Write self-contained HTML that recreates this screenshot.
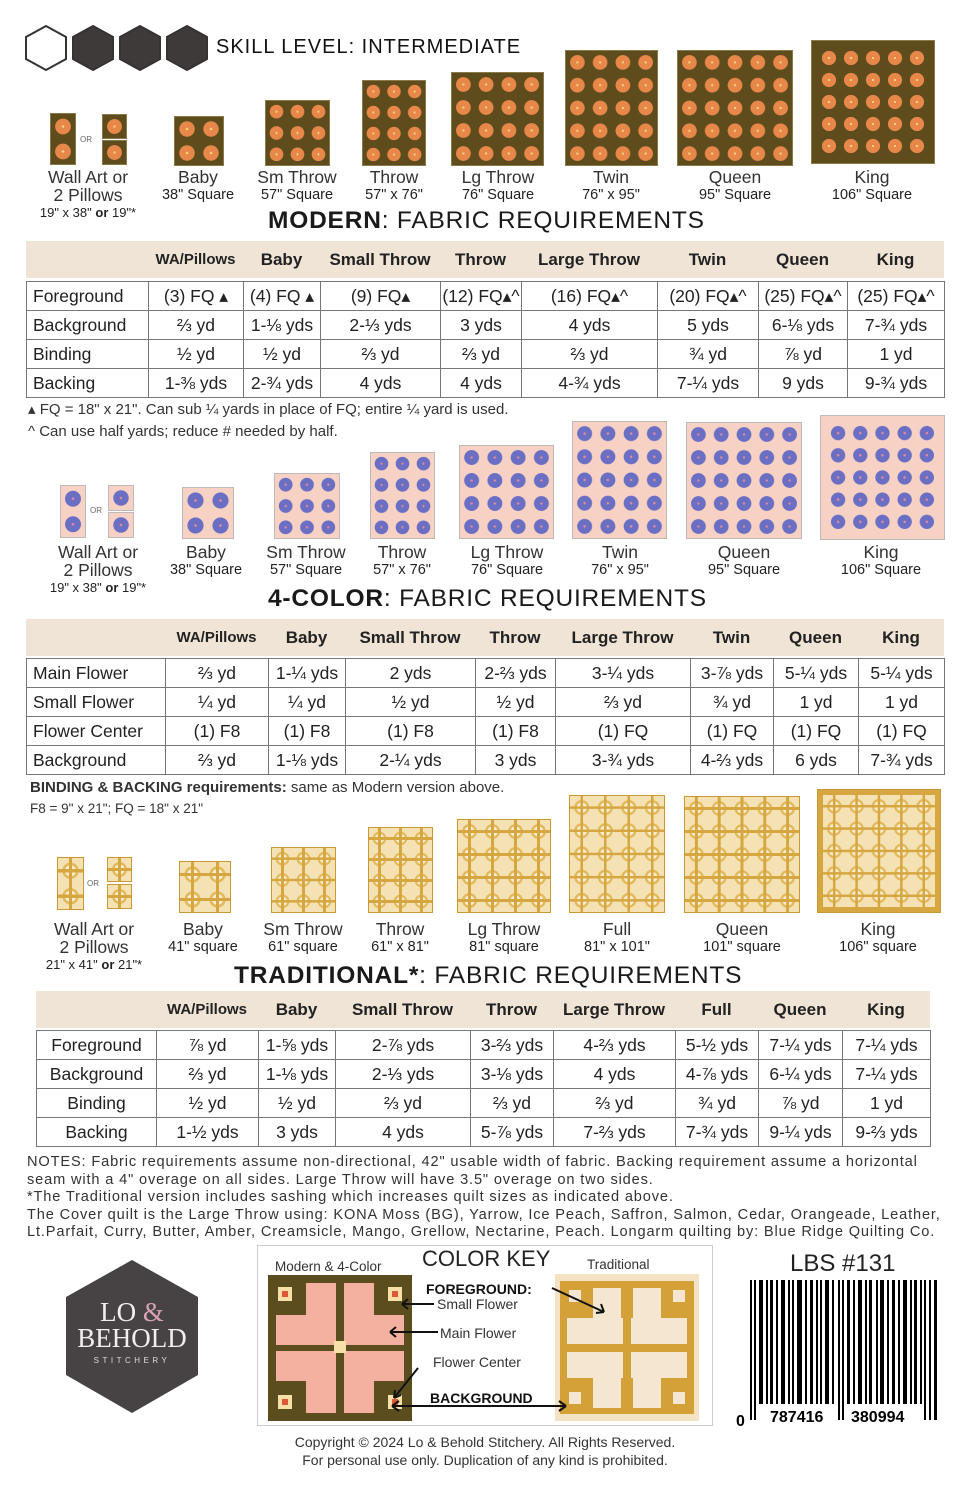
<!DOCTYPE html>
<html><head><meta charset="utf-8"><style>
*{margin:0;padding:0;box-sizing:border-box}
body{width:970px;height:1500px;background:#fff;position:relative;font-family:"Liberation Sans","DejaVu Sans",sans-serif;color:#2a2a2a;overflow:hidden}
.a{position:absolute}
.q{position:absolute}
.m{background-color:#5e4c1c;background-image:radial-gradient(circle,#f4d27a 0 7%,#e8874a 8% 44%,transparent 47%);border:1px solid #8a7a4a}
.c{background-color:#f7d2c4;background-image:radial-gradient(circle,#e08a9a 0 7%,#6b6fc4 8% 44%,transparent 47%);border:1px solid #bbb}
.t{background-color:#f4e2b4;background-image:linear-gradient(90deg,transparent 0 44%,#d6a640 44% 56%,transparent 56%),linear-gradient(0deg,transparent 0 44%,#d6a640 44% 56%,transparent 56%),radial-gradient(circle,#f8edd0 0 30%,#e2b95c 32% 45%,transparent 47%);border:1px solid #c99a34}
.lb{position:absolute;text-align:center;font-size:17.5px;line-height:18px;color:#333;width:120px}
.lb small{font-size:14.5px;display:block;color:#222}
.h{position:absolute;font-size:24.5px;letter-spacing:.8px;color:#1a1a1a;white-space:nowrap}
table{border-collapse:collapse;position:absolute;table-layout:fixed;font-size:17.5px}
.hd td{font-weight:bold;text-align:center;font-size:17px;height:37px;color:#222}
.bd td{border:1.5px solid #777;height:29px;text-align:center;color:#222;white-space:nowrap}
.bd td:first-child{text-align:left;padding-left:6px}
.tr td:first-child{text-align:center;padding-left:0}
.note{position:absolute;font-size:14.5px;line-height:17.6px;color:#333;white-space:nowrap}
</style></head><body>
<svg class="a" style="left:22px;top:24px" width="190" height="48"><g stroke="#333" stroke-width="2"><polygon points="24,2 44,13 44,35 24,46 4,35 4,13" fill="#fff"/><polygon points="71,2 91,13 91,35 71,46 51,35 51,13" fill="#3e3a39"/><polygon points="118,2 138,13 138,35 118,46 98,35 98,13" fill="#3e3a39"/><polygon points="165,2 185,13 185,35 165,46 145,35 145,13" fill="#3e3a39"/></g></svg>
<div class="a" style="left:216px;top:36px;font-size:20px;letter-spacing:1px;color:#111">SKILL LEVEL: INTERMEDIATE</div>

<div class="q m" style="left:50px;top:113px;width:26px;height:52px;background-size:100% 50%"></div>
<div class="a" style="left:80px;top:135px;font-size:8px;color:#666">OR</div>
<div class="q m" style="left:102px;top:114px;width:25px;height:25px;background-size:100% 100%"></div>
<div class="q m" style="left:102px;top:140px;width:25px;height:25px;background-size:100% 100%"></div>
<div class="q m" style="left:174px;top:116px;width:50px;height:50px;background-size:50% 50%"></div>
<div class="q m" style="left:265px;top:100px;width:65px;height:66px;background-size:33.33% 33.33%"></div>
<div class="q m" style="left:362px;top:80px;width:64px;height:86px;background-size:33.33% 25%"></div>
<div class="q m" style="left:451px;top:72px;width:93px;height:94px;background-size:25% 25%"></div>
<div class="q m" style="left:565px;top:50px;width:93px;height:116px;background-size:25% 20%"></div>
<div class="q m" style="left:677px;top:50px;width:116px;height:116px;background-size:20% 20%"></div>
<div class="q" style="left:811px;top:40px;width:124px;height:124px;background:#5e4c1c;border:1px solid #8a7a4a"><div class="q m" style="left:6px;top:6px;width:110px;height:110px;background-size:20% 20%;border:none"></div></div>
<div class="lb" style="left:28px;top:168px">Wall Art or<br>2 Pillows<small style="font-size:13px">19" x 38" <b>or</b> 19"*</small></div>
<div class="lb" style="left:138px;top:168px">Baby<small>38" Square</small></div>
<div class="lb" style="left:237px;top:168px">Sm Throw<small>57" Square</small></div>
<div class="lb" style="left:334px;top:168px">Throw<small>57" x 76"</small></div>
<div class="lb" style="left:438px;top:168px">Lg Throw<small>76" Square</small></div>
<div class="lb" style="left:551px;top:168px">Twin<small>76" x 95"</small></div>
<div class="lb" style="left:675px;top:168px">Queen<small>95" Square</small></div>
<div class="lb" style="left:812px;top:168px">King<small>106" Square</small></div>
<div class="h" style="left:268px;top:207px"><b>MODERN</b>: FABRIC REQUIREMENTS</div>

<div class="a" style="left:26px;top:241px;width:918px;height:37px;background:#efe4d5"></div>
<table class="hd" style="left:26px;top:241px;width:918px"><colgroup><col style="width:122px"><col style="width:95px"><col style="width:77px"><col style="width:120px"><col style="width:81px"><col style="width:136px"><col style="width:101px"><col style="width:89px"><col style="width:97px"></colgroup>
<tr><td></td><td style="font-size:15px">WA/Pillows</td><td>Baby</td><td>Small Throw</td><td>Throw</td><td>Large Throw</td><td>Twin</td><td>Queen</td><td>King</td></tr></table>
<table class="bd" style="left:26px;top:281px;width:918px"><colgroup><col style="width:122px"><col style="width:95px"><col style="width:77px"><col style="width:120px"><col style="width:81px"><col style="width:136px"><col style="width:101px"><col style="width:89px"><col style="width:97px"></colgroup>
<tr><td>Foreground</td><td>(3) FQ ▴</td><td>(4) FQ ▴</td><td>(9) FQ▴</td><td>(12) FQ▴^</td><td>(16) FQ▴^</td><td>(20) FQ▴^</td><td>(25) FQ▴^</td><td>(25) FQ▴^</td></tr>
<tr><td>Background</td><td>⅔ yd</td><td>1-⅛ yds</td><td>2-⅓ yds</td><td>3 yds</td><td>4 yds</td><td>5 yds</td><td>6-⅛ yds</td><td>7-¾ yds</td></tr>
<tr><td>Binding</td><td>½ yd</td><td>½ yd</td><td>⅔ yd</td><td>⅔ yd</td><td>⅔ yd</td><td>¾ yd</td><td>⅞ yd</td><td>1 yd</td></tr>
<tr><td>Backing</td><td>1-⅜ yds</td><td>2-¾ yds</td><td>4 yds</td><td>4 yds</td><td>4-¾ yds</td><td>7-¼ yds</td><td>9 yds</td><td>9-¾ yds</td></tr></table>
<div class="note" style="left:28px;top:401px;font-size:15px">▴ FQ = 18" x 21". Can sub ¼ yards in place of FQ; entire ¼ yard is used.</div>
<div class="note" style="left:28px;top:423px;font-size:15px">^ Can use half yards; reduce # needed by half.</div>

<div class="q c" style="left:60px;top:485px;width:26px;height:53px;background-size:100% 50%"></div>
<div class="a" style="left:90px;top:506px;font-size:8px;color:#666">OR</div>
<div class="q c" style="left:108px;top:485px;width:26px;height:26px;background-size:100% 100%"></div>
<div class="q c" style="left:108px;top:512px;width:26px;height:26px;background-size:100% 100%"></div>
<div class="q c" style="left:182px;top:487px;width:52px;height:52px;background-size:50% 50%"></div>
<div class="q c" style="left:274px;top:473px;width:66px;height:66px;background-size:33.33% 33.33%"></div>
<div class="q c" style="left:370px;top:452px;width:65px;height:87px;background-size:33.33% 25%"></div>
<div class="q c" style="left:459px;top:445px;width:95px;height:94px;background-size:25% 25%"></div>
<div class="q c" style="left:572px;top:421px;width:95px;height:118px;background-size:25% 20%"></div>
<div class="q c" style="left:686px;top:422px;width:116px;height:117px;background-size:20% 20%"></div>
<div class="q" style="left:820px;top:415px;width:125px;height:125px;background:#f7d2c4;border:1px solid #bbb"><div class="q c" style="left:6px;top:6px;width:111px;height:111px;background-size:20% 20%;border:none"></div></div>
<div class="lb" style="left:38px;top:543px">Wall Art or<br>2 Pillows<small style="font-size:13px">19" x 38" <b>or</b> 19"*</small></div>
<div class="lb" style="left:146px;top:543px">Baby<small>38" Square</small></div>
<div class="lb" style="left:246px;top:543px">Sm Throw<small>57" Square</small></div>
<div class="lb" style="left:342px;top:543px">Throw<small>57" x 76"</small></div>
<div class="lb" style="left:447px;top:543px">Lg Throw<small>76" Square</small></div>
<div class="lb" style="left:560px;top:543px">Twin<small>76" x 95"</small></div>
<div class="lb" style="left:684px;top:543px">Queen<small>95" Square</small></div>
<div class="lb" style="left:821px;top:543px">King<small>106" Square</small></div>
<div class="h" style="left:268px;top:585px"><b>4-COLOR</b>: FABRIC REQUIREMENTS</div>

<div class="a" style="left:26px;top:619px;width:918px;height:37px;background:#efe4d5"></div>
<table class="hd" style="left:26px;top:619px;width:918px"><colgroup><col style="width:139px"><col style="width:103px"><col style="width:77px"><col style="width:130px"><col style="width:80px"><col style="width:135px"><col style="width:83px"><col style="width:85px"><col style="width:86px"></colgroup>
<tr><td></td><td style="font-size:15px">WA/Pillows</td><td>Baby</td><td>Small Throw</td><td>Throw</td><td>Large Throw</td><td>Twin</td><td>Queen</td><td>King</td></tr></table>
<table class="bd" style="left:26px;top:658px;width:918px"><colgroup><col style="width:139px"><col style="width:103px"><col style="width:77px"><col style="width:130px"><col style="width:80px"><col style="width:135px"><col style="width:83px"><col style="width:85px"><col style="width:86px"></colgroup>
<tr><td>Main Flower</td><td>⅔ yd</td><td>1-¼ yds</td><td>2 yds</td><td>2-⅔ yds</td><td>3-¼ yds</td><td>3-⅞ yds</td><td>5-¼ yds</td><td>5-¼ yds</td></tr>
<tr><td>Small Flower</td><td>¼ yd</td><td>¼ yd</td><td>½ yd</td><td>½ yd</td><td>⅔ yd</td><td>¾ yd</td><td>1 yd</td><td>1 yd</td></tr>
<tr><td>Flower Center</td><td>(1) F8</td><td>(1) F8</td><td>(1) F8</td><td>(1) F8</td><td>(1) FQ</td><td>(1) FQ</td><td>(1) FQ</td><td>(1) FQ</td></tr>
<tr><td>Background</td><td>⅔ yd</td><td>1-⅛ yds</td><td>2-¼ yds</td><td>3 yds</td><td>3-¾ yds</td><td>4-⅔ yds</td><td>6 yds</td><td>7-¾ yds</td></tr></table>
<div class="note" style="left:30px;top:779px;font-size:15px"><b>BINDING &amp; BACKING requirements:</b> same as Modern version above.</div>
<div class="note" style="left:30px;top:800px;font-size:13.5px">F8 = 9" x 21"; FQ = 18" x 21"</div>

<div class="q t" style="left:57px;top:857px;width:27px;height:53px;background-size:100% 50%"></div>
<div class="a" style="left:87px;top:879px;font-size:8px;color:#666">OR</div>
<div class="q t" style="left:107px;top:857px;width:25px;height:25px;background-size:100% 100%"></div>
<div class="q t" style="left:107px;top:884px;width:25px;height:25px;background-size:100% 100%"></div>
<div class="q t" style="left:179px;top:861px;width:52px;height:52px;background-size:50% 50%"></div>
<div class="q t" style="left:271px;top:847px;width:65px;height:66px;background-size:33.33% 33.33%"></div>
<div class="q t" style="left:368px;top:827px;width:65px;height:86px;background-size:33.33% 25%"></div>
<div class="q t" style="left:457px;top:819px;width:94px;height:94px;background-size:25% 25%"></div>
<div class="q t" style="left:569px;top:795px;width:96px;height:118px;background-size:25% 20%"></div>
<div class="q t" style="left:684px;top:796px;width:116px;height:117px;background-size:20% 20%"></div>
<div class="q" style="left:817px;top:789px;width:124px;height:124px;background:#d6a640;border:1px solid #c99a34"><div class="q t" style="left:5px;top:5px;width:112px;height:112px;background-size:20% 20%;border:none"></div></div>
<div class="lb" style="left:34px;top:920px">Wall Art or<br>2 Pillows<small style="font-size:13px">21" x 41" <b>or</b> 21"*</small></div>
<div class="lb" style="left:143px;top:920px">Baby<small>41" square</small></div>
<div class="lb" style="left:243px;top:920px">Sm Throw<small>61" square</small></div>
<div class="lb" style="left:340px;top:920px">Throw<small>61" x 81"</small></div>
<div class="lb" style="left:444px;top:920px">Lg Throw<small>81" square</small></div>
<div class="lb" style="left:557px;top:920px">Full<small>81" x 101"</small></div>
<div class="lb" style="left:682px;top:920px">Queen<small>101" square</small></div>
<div class="lb" style="left:818px;top:920px">King<small>106" square</small></div>
<div class="h" style="left:234px;top:962px"><b>TRADITIONAL*</b>: FABRIC REQUIREMENTS</div>

<div class="a" style="left:36px;top:991px;width:894px;height:37px;background:#efe4d5"></div>
<table class="hd" style="left:36px;top:991px;width:894px"><colgroup><col style="width:120px"><col style="width:102px"><col style="width:77px"><col style="width:135px"><col style="width:83px"><col style="width:122px"><col style="width:83px"><col style="width:84px"><col style="width:88px"></colgroup>
<tr><td></td><td style="font-size:15px">WA/Pillows</td><td>Baby</td><td>Small Throw</td><td>Throw</td><td>Large Throw</td><td>Full</td><td>Queen</td><td>King</td></tr></table>
<table class="bd tr" style="left:36px;top:1030px;width:894px"><colgroup><col style="width:120px"><col style="width:102px"><col style="width:77px"><col style="width:135px"><col style="width:83px"><col style="width:122px"><col style="width:83px"><col style="width:84px"><col style="width:88px"></colgroup>
<tr><td>Foreground</td><td>⅞ yd</td><td>1-⅝ yds</td><td>2-⅞ yds</td><td>3-⅔ yds</td><td>4-⅔ yds</td><td>5-½ yds</td><td>7-¼ yds</td><td>7-¼ yds</td></tr>
<tr><td>Background</td><td>⅔ yd</td><td>1-⅛ yds</td><td>2-⅓ yds</td><td>3-⅛ yds</td><td>4 yds</td><td>4-⅞ yds</td><td>6-¼ yds</td><td>7-¼ yds</td></tr>
<tr><td>Binding</td><td>½ yd</td><td>½ yd</td><td>⅔ yd</td><td>⅔ yd</td><td>⅔ yd</td><td>¾ yd</td><td>⅞ yd</td><td>1 yd</td></tr>
<tr><td>Backing</td><td>1-½ yds</td><td>3 yds</td><td>4 yds</td><td>5-⅞ yds</td><td>7-⅔ yds</td><td>7-¾ yds</td><td>9-¼ yds</td><td>9-⅔ yds</td></tr></table>

<div class="note" style="left:27px;top:1154px;font-size:14.6px;letter-spacing:.85px">NOTES: Fabric requirements assume non-directional, 42" usable width of fabric. Backing requirement assume a horizontal<br>seam with a 4" overage on all sides. Large Throw will have 3.5" overage on two sides.<br>*The Traditional version includes sashing which increases quilt sizes as indicated above.<br>The Cover quilt is the Large Throw using: KONA Moss (BG), Yarrow, Ice Peach, Saffron, Salmon, Cedar, Orangeade, Leather,<br>Lt.Parfait, Curry, Butter, Amber, Creamsicle, Mango, Grellow, Nectarine, Peach. Longarm quilting by: Blue Ridge Quilting Co.</div>

<svg class="a" style="left:60px;top:1257px" width="144" height="160"><polygon points="72,3 138,40 138,118 72,156 6,118 6,40" fill="#474244"/>
<text x="72" y="64" text-anchor="middle" font-family="Liberation Serif,serif" font-size="27" fill="#f2eeee">LO <tspan fill="#d6a3b6">&amp;</tspan></text>
<text x="72" y="90" text-anchor="middle" font-family="Liberation Serif,serif" font-size="27" fill="#f2eeee">BEHOLD</text>
<text x="72" y="106" text-anchor="middle" font-family="Liberation Sans,sans-serif" font-size="8" letter-spacing="3.5" fill="#ddd">STITCHERY</text></svg>

<div class="a" style="left:257px;top:1245px;width:456px;height:181px;border:1px solid #ccc"></div>
<div class="a" style="left:422px;top:1246px;font-size:22px;color:#222">COLOR KEY</div>
<div class="a" style="left:275px;top:1259px;font-size:13.5px;color:#333">Modern &amp; 4-Color</div>
<div class="a" style="left:587px;top:1257px;font-size:13.5px;color:#333">Traditional</div>
<svg class="a" style="left:268px;top:1275px" width="144" height="146"><rect width="144" height="146" fill="#5c4d1e"/>
<g fill="#f4b1a0"><rect x="38" y="8" width="30" height="60"/><rect x="76" y="8" width="30" height="60"/><rect x="8" y="40" width="60" height="30"/><rect x="76" y="40" width="60" height="30"/><rect x="38" y="78" width="30" height="60"/><rect x="76" y="78" width="30" height="60"/><rect x="8" y="76" width="60" height="30"/><rect x="76" y="76" width="60" height="30"/></g>
<rect x="66" y="66" width="12" height="12" fill="#f7e0a8"/>
<g fill="#f7e0a8"><rect x="10" y="12" width="14" height="14"/><rect x="120" y="12" width="14" height="14"/><rect x="10" y="120" width="14" height="14"/><rect x="120" y="120" width="14" height="14"/></g>
<g fill="#e0563a"><rect x="14" y="16" width="6" height="6"/><rect x="124" y="16" width="6" height="6"/><rect x="14" y="124" width="6" height="6"/><rect x="124" y="124" width="6" height="6"/></g></svg>
<svg class="a" style="left:555px;top:1274px" width="144" height="147"><rect width="144" height="147" fill="#f4e2c4"/><rect x="5" y="7" width="134" height="133" fill="#d4a138"/>
<g fill="#f4e6d0"><rect x="38" y="14" width="28" height="56"/><rect x="78" y="14" width="28" height="56"/><rect x="12" y="44" width="56" height="26"/><rect x="76" y="44" width="56" height="26"/><rect x="38" y="78" width="28" height="56"/><rect x="78" y="78" width="28" height="56"/><rect x="12" y="78" width="56" height="26"/><rect x="76" y="78" width="56" height="26"/></g>
<g fill="#f4e6d0"><rect x="14" y="16" width="12" height="12"/><rect x="118" y="16" width="12" height="12"/><rect x="14" y="118" width="12" height="12"/><rect x="118" y="118" width="12" height="12"/></g></svg>
<div class="a" style="left:426px;top:1281px;font-size:14px;font-weight:bold;color:#111">FOREGROUND:</div>
<div class="a" style="left:437px;top:1296px;font-size:14px;color:#333">Small Flower</div>
<div class="a" style="left:440px;top:1325px;font-size:14px;color:#333">Main Flower</div>
<div class="a" style="left:433px;top:1354px;font-size:14px;color:#333">Flower Center</div>
<div class="a" style="left:430px;top:1390px;font-size:14px;font-weight:bold;color:#111">BACKGROUND</div>
<svg class="a" style="left:380px;top:1280px" width="240" height="140" fill="none" stroke="#111" stroke-width="2"><path d="M54,24 L22,24 M22,24 l6,-5 M22,24 l6,5"/><path d="M58,52 L10,52 M10,52 l6,-5 M10,52 l6,5"/><path d="M38,88 L14,118 M14,118 l1,-8 M14,118 l7,-3"/><path d="M12,126 L186,126 M12,126 l7,-5 M12,126 l7,5 M186,126 l-7,-5 M186,126 l-7,5"/><path d="M172,8 L224,32 M224,32 l-3,-8 M224,32 l-8,1"/></svg>

<div class="a" style="left:790px;top:1250px;font-size:24px;color:#222">LBS #131</div>
<svg class="a" style="left:733px;top:1280px" width="210" height="150">
<g fill="#000" transform="translate(15,0)">
<rect x="2" y="0" width="2" height="140"/><rect x="6" y="0" width="2" height="140"/><rect x="11" y="0" width="4" height="124"/><rect x="18" y="0" width="2" height="124"/><rect x="22" y="0" width="3" height="124"/><rect x="28" y="0" width="2" height="124"/><rect x="33" y="0" width="4" height="124"/><rect x="40" y="0" width="2" height="124"/><rect x="44" y="0" width="2" height="124"/><rect x="49" y="0" width="5" height="124"/><rect x="57" y="0" width="2" height="124"/><rect x="62" y="0" width="3" height="124"/><rect x="68" y="0" width="2" height="124"/><rect x="72" y="0" width="2" height="124"/><rect x="77" y="0" width="4" height="124"/><rect x="84" y="0" width="2" height="124"/><rect x="90" y="0" width="2" height="140"/><rect x="94" y="0" width="2" height="140"/><rect x="99" y="0" width="3" height="124"/><rect x="105" y="0" width="2" height="124"/><rect x="110" y="0" width="4" height="124"/><rect x="117" y="0" width="2" height="124"/><rect x="121" y="0" width="3" height="124"/><rect x="128" y="0" width="2" height="124"/><rect x="132" y="0" width="4" height="124"/><rect x="139" y="0" width="2" height="124"/><rect x="144" y="0" width="3" height="124"/><rect x="150" y="0" width="2" height="124"/><rect x="155" y="0" width="4" height="124"/><rect x="162" y="0" width="2" height="124"/><rect x="166" y="0" width="3" height="124"/><rect x="172" y="0" width="2" height="124"/><rect x="176" y="0" width="2" height="140"/><rect x="181" y="0" width="2" height="140"/><rect x="186" y="0" width="3" height="140"/></g>
<text x="3" y="146" font-size="16" font-weight="bold" font-family="Liberation Sans,sans-serif">0</text>
<text x="37" y="142" font-size="16" font-weight="bold" font-family="Liberation Sans,sans-serif">787416</text>
<text x="118" y="142" font-size="16" font-weight="bold" font-family="Liberation Sans,sans-serif">380994</text></svg>

<div class="a" style="left:230px;top:1433px;width:510px;text-align:center;font-size:14px;line-height:18px;color:#333">Copyright © 2024 Lo &amp; Behold Stitchery. All Rights Reserved.<br>For personal use only. Duplication of any kind is prohibited.</div>
</body></html>
